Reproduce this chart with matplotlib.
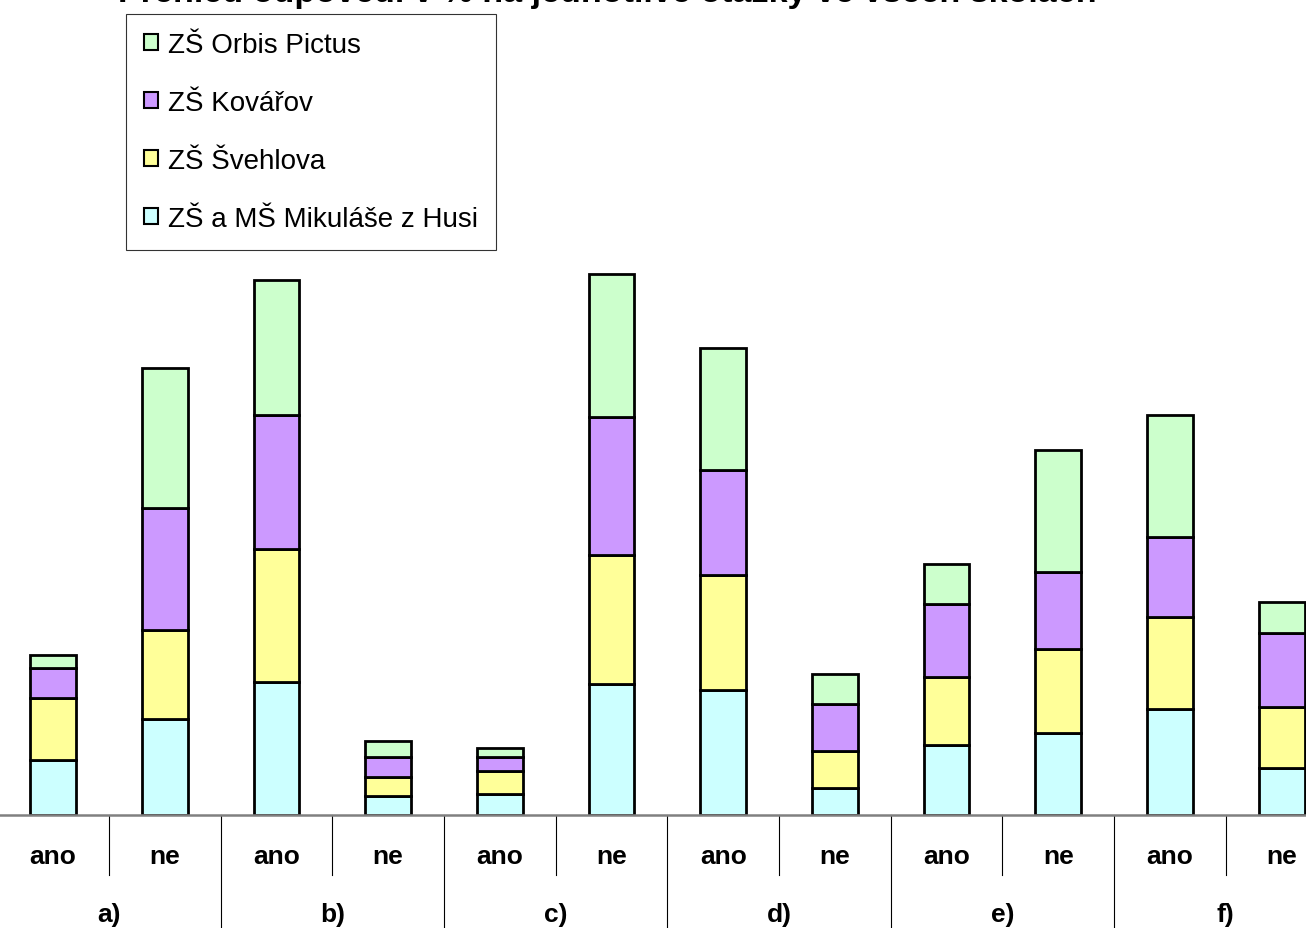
import matplotlib
matplotlib.use('Agg')
import matplotlib.pyplot as plt
import matplotlib.transforms as mtransforms
from matplotlib.patches import Patch

plt.rcParams['font.family'] = ['Liberation Sans', 'DejaVu Sans']

questions = ['a)', 'b)', 'c)', 'd)', 'e)', 'f)']
answers = ['ano', 'ne']
schools = ['ZŠ a MŠ Mikuláše z Husi', 'ZŠ Švehlova', 'ZŠ Kovářov', 'ZŠ Orbis Pictus']
colors = ['#ccffff', '#ffff99', '#cc99ff', '#ccffcc']

# % per bar (a-ano, a-ne, b-ano, ...), one list per school
husi = [36, 63, 87.5, 12.5, 14, 86, 82, 18, 46, 54, 70, 31]
svehlova = [41, 59, 87.5, 12.5, 15, 85, 76, 24, 45, 55, 60, 40]
kovarov = [20, 80, 88, 13, 9, 91, 69, 31, 48, 51, 53, 49]
orbis = [8, 92, 89, 10.5, 6, 94, 80, 20, 26, 80, 80, 20]
series = [husi, svehlova, kovarov, orbis]

W, H = 1306, 929
fig = plt.figure(figsize=(W / 100, H / 100), dpi=100)
slot = 111.7
x0 = 53 - slot / 2
base = 816
ymax = 360
ax = fig.add_axes([x0 / W, (H - base) / H, 12 * slot / W, ymax * 1.52 / H])

xs = list(range(len(husi)))
bottom = [0] * len(xs)
for vals, col, name in zip(series, colors, schools):
    ax.bar(xs, vals, 0.41, bottom=bottom, color=col, edgecolor='black', linewidth=2.0, label=name)
    bottom = [b + v for b, v in zip(bottom, vals)]

ax.set_xlim(-0.5, len(xs) - 0.5)
ax.set_ylim(0, ymax)
for s in ['top', 'right', 'left']:
    ax.spines[s].set_visible(False)
ax.spines['bottom'].set_color('#808080')
ax.spines['bottom'].set_linewidth(1.8)
ax.set_xticks([])
ax.set_yticks([])

tr = mtransforms.blended_transform_factory(ax.transData, fig.transFigure)
for i in range(1, len(xs)):
    xd = i - 0.5
    ylow = 0 if i % 2 == 0 else (H - 876) / H
    ax.plot([xd, xd], [(H - base) / H, ylow], color='black', lw=0.8, transform=tr, clip_on=False)
for i, x in enumerate(xs):
    ax.text(x, (H - 857) / H, answers[i % 2], transform=tr, ha='center', va='center',
            fontsize=19, fontweight='bold')
for j, q in enumerate(questions):
    ax.text(2 * j + 0.5, (H - 915) / H, q, transform=tr, ha='center', va='center',
            fontsize=19, fontweight='bold')

fig.text(607 / W, 1 - 2 / H, 'Přehled odpovědí v % na jednotlivé otázky ve všech školách',
         ha='center', va='baseline', fontsize=24.6, fontweight='bold')

handles = [Patch(facecolor=c, edgecolor='black', linewidth=1.5, label=n) for c, n in zip(colors, schools)]
leg = fig.legend(handles[::-1], schools[::-1], loc='upper left',
                 bbox_to_anchor=(126 / W, 1 - 15 / H), fontsize=20, frameon=True,
                 fancybox=False, borderpad=0.65, labelspacing=1.15, handlelength=0.5,
                 handleheight=0.5, handletextpad=0.35, borderaxespad=0)
leg.get_frame().set_edgecolor('black')
leg.get_frame().set_linewidth(0.8)

fig.savefig('out.png', dpi=100)
